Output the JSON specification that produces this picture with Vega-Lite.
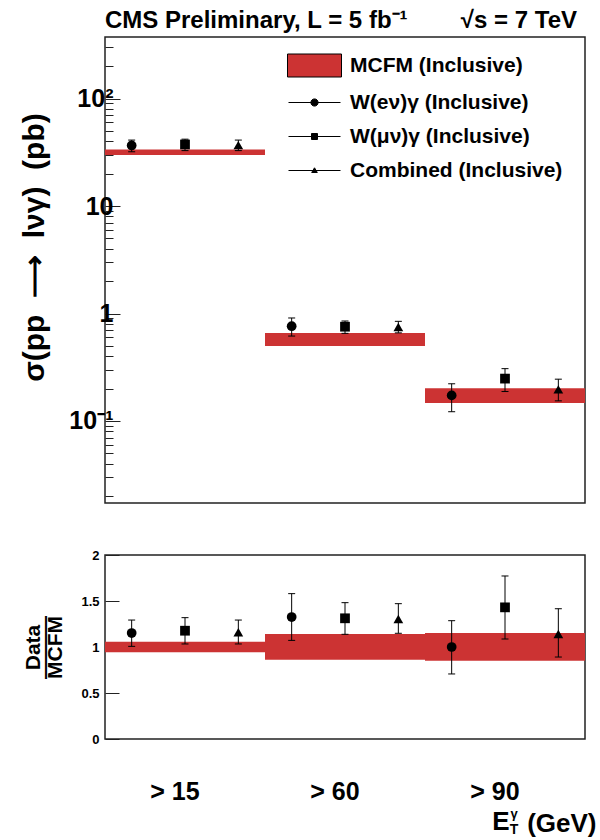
{
  "$schema": "https://vega.github.io/schema/vega-lite/v6.json",
  "background": "white",
  "padding": {"left": 18, "top": 8, "right": 5, "bottom": 5},
  "spacing": 44,
  "config": {
    "font": "Liberation Sans",
    "view": {"stroke": "#222222", "strokeWidth": 1.5},
    "axis": {
      "labelFont": "Liberation Sans", "labelFontWeight": "bold", "labelColor": "black",
      "titleFont": "Liberation Sans", "titleFontWeight": "bold", "titleColor": "black",
      "tickColor": "#222222", "tickWidth": 1, "domain": false, "grid": false
    }
  },
  "datasets": {
    "pts": [
      {"bin": ">15", "ch": "e", "xsec": 36.6, "lo": 32.0, "hi": 41.1, "ratio": 1.152, "rlo": 1.007, "rhi": 1.293},
      {"bin": ">15", "ch": "mu", "xsec": 37.4, "lo": 32.8, "hi": 41.9, "ratio": 1.177, "rlo": 1.033, "rhi": 1.319},
      {"bin": ">15", "ch": "comb", "xsec": 36.9, "lo": 32.8, "hi": 41.1, "ratio": 1.16, "rlo": 1.033, "rhi": 1.293},
      {"bin": ">60", "ch": "e", "xsec": 0.762, "lo": 0.617, "hi": 0.909, "ratio": 1.326, "rlo": 1.072, "rhi": 1.58},
      {"bin": ">60", "ch": "mu", "xsec": 0.754, "lo": 0.654, "hi": 0.852, "ratio": 1.312, "rlo": 1.138, "rhi": 1.482},
      {"bin": ">60", "ch": "comb", "xsec": 0.75, "lo": 0.661, "hi": 0.846, "ratio": 1.304, "rlo": 1.149, "rhi": 1.471},
      {"bin": ">90", "ch": "e", "xsec": 0.173, "lo": 0.122, "hi": 0.222, "ratio": 1.0, "rlo": 0.707, "rhi": 1.286},
      {"bin": ">90", "ch": "mu", "xsec": 0.248, "lo": 0.188, "hi": 0.307, "ratio": 1.431, "rlo": 1.087, "rhi": 1.772},
      {"bin": ">90", "ch": "comb", "xsec": 0.197, "lo": 0.154, "hi": 0.245, "ratio": 1.141, "rlo": 0.891, "rhi": 1.416}
    ],
    "mcfm": [
      {"bin": ">15", "xsec": 31.7, "lo": 29.9, "hi": 33.6, "rlo": 0.944, "rhi": 1.056},
      {"bin": ">60", "xsec": 0.575, "lo": 0.5, "hi": 0.66, "rlo": 0.862, "rhi": 1.141},
      {"bin": ">90", "xsec": 0.173, "lo": 0.147, "hi": 0.2018, "rlo": 0.851, "rhi": 1.152}
    ]
  },
  "vconcat": [
    {
      "width": 480,
      "height": 466,
      "title": {
        "text": "CMS Preliminary, L = 5 fb\u207b\u00b9\u00a0\u00a0\u00a0\u00a0\u00a0\u00a0\u00a0\u00a0\u221as = 7 TeV",
        "anchor": "start", "frame": "group", "fontSize": 24, "fontWeight": "bold",
        "font": "Liberation Sans", "baseline": "alphabetic", "offset": -15, "color": "black"
      },
      "layer": [
        {
          "data": {"name": "mcfm"},
          "mark": {"type": "bar", "color": "#cc3333"},
          "encoding": {
            "x": {"field": "bin", "type": "nominal", "scale": {"domain": [">15", ">60", ">90"], "paddingInner": 0, "paddingOuter": 0}, "axis": null},
            "y": {
              "field": "lo", "type": "quantitative",
              "scale": {"type": "log", "domain": [0.01726, 374], "nice": false},
              "axis": {
                "values": [0.02, 0.03, 0.04, 0.05, 0.06, 0.07, 0.08, 0.09, 0.1, 0.2, 0.3, 0.4, 0.5, 0.6, 0.7, 0.8, 0.9, 1, 2, 3, 4, 5, 6, 7, 8, 9, 10, 20, 30, 40, 50, 60, 70, 80, 90, 100, 200, 300],
                "labelExpr": "datum.value == 100 ? '10\u00b2' : datum.value == 10 ? '10' : datum.value == 1 ? '1' : datum.value == 0.1 ? '10\u207b\u00b9' : ''",
                "tickSize": {"condition": {"test": "datum.value == 0.1 || datum.value == 1 || datum.value == 10 || datum.value == 100", "value": -15}, "value": -8},
                "labelFontSize": 25, "labelPadding": 7,
                "title": "\u03c3(pp\u00a0\u00a0\u27f6\u00a0\u00a0l\u03bd\u03b3)\u00a0\u00a0(pb)", "titleFontSize": 30,
                "titleX": -56, "titleY": 210, "titleBaseline": "bottom", "titleAlign": "center", "titleAngle": -90
              }
            },
            "y2": {"field": "hi"}
          }
        },
        {
          "data": {"name": "pts"},
          "mark": {"type": "rule", "color": "black", "strokeWidth": 1},
          "encoding": {
            "x": {"field": "bin", "type": "nominal"},
            "xOffset": {"field": "ch", "type": "nominal", "scale": {"domain": ["e", "mu", "comb"], "paddingInner": 0, "paddingOuter": 0}},
            "y": {"field": "lo", "type": "quantitative"},
            "y2": {"field": "hi"}
          }
        },
        {
          "data": {"name": "pts"},
          "mark": {"type": "tick", "color": "black", "size": 7, "thickness": 1, "opacity": 1},
          "encoding": {
            "x": {"field": "bin", "type": "nominal"},
            "xOffset": {"field": "ch", "type": "nominal"},
            "y": {"field": "lo", "type": "quantitative"}
          }
        },
        {
          "data": {"name": "pts"},
          "mark": {"type": "tick", "color": "black", "size": 7, "thickness": 1, "opacity": 1},
          "encoding": {
            "x": {"field": "bin", "type": "nominal"},
            "xOffset": {"field": "ch", "type": "nominal"},
            "y": {"field": "hi", "type": "quantitative"}
          }
        },
        {
          "data": {"name": "pts"},
          "mark": {"type": "point", "filled": true, "size": 95, "color": "black", "opacity": 1},
          "encoding": {
            "x": {"field": "bin", "type": "nominal"},
            "xOffset": {"field": "ch", "type": "nominal"},
            "y": {"field": "xsec", "type": "quantitative"},
            "shape": {"field": "ch", "type": "nominal", "scale": {"domain": ["e", "mu", "comb"], "range": ["circle", "square", "triangle-up"]}, "legend": null}
          }
        },
        {
          "data": {"name": "pts"},
          "transform": [{"filter": "datum.ch == 'none'"}],
          "mark": {"type": "point", "filled": true, "opacity": 1},
          "encoding": {
            "x": {"field": "bin", "type": "nominal"},
            "y": {"field": "xsec", "type": "quantitative"},
            "shape": {
              "field": "series", "type": "nominal",
              "scale": {
                "domain": ["MCFM (Inclusive)", "W(e\u03bd)\u03b3 (Inclusive)", "W(\u03bc\u03bd)\u03b3 (Inclusive)", "Combined (Inclusive)"],
                "range": [
                  "M-2.7,-1.15H2.7V1.15H-2.7Z",
                  "M-2.6,0H2.6M0.36,0A0.36,0.36,0,1,1,-0.36,0A0.36,0.36,0,1,1,0.36,0Z",
                  "M-2.6,0H2.6M-0.3,-0.3H0.3V0.3H-0.3Z",
                  "M-2.6,0H2.6M0,-0.27L0.28,0.2H-0.28Z"
                ]
              },
              "legend": {
                "title": null, "orient": "none", "legendX": 199, "legendY": 18,
                "symbolSize": 400, "symbolOpacity": 1, "symbolStrokeColor": "black", "symbolStrokeWidth": 1,
                "labelFont": "Liberation Sans", "labelFontSize": 21, "labelFontWeight": "bold", "labelColor": "black",
                "labelOffset": 25, "rowPadding": 12, "labelLimit": 400, "padding": 0,
                "encode": {"symbols": {"update": {"stroke": {"value": "black"}, "strokeWidth": {"value": 1}, "opacity": {"value": 1}}}}
              }
            },
            "color": {
              "field": "series", "type": "nominal",
              "scale": {
                "domain": ["MCFM (Inclusive)", "W(e\u03bd)\u03b3 (Inclusive)", "W(\u03bc\u03bd)\u03b3 (Inclusive)", "Combined (Inclusive)"],
                "range": ["#cc3333", "black", "black", "black"]
              },
              "legend": {
                "title": null, "orient": "none", "legendX": 199, "legendY": 18,
                "symbolSize": 400, "symbolOpacity": 1, "symbolStrokeColor": "black", "symbolStrokeWidth": 1,
                "labelFont": "Liberation Sans", "labelFontSize": 21, "labelFontWeight": "bold", "labelColor": "black",
                "labelOffset": 25, "rowPadding": 12, "labelLimit": 400, "padding": 0,
                "encode": {"symbols": {"update": {"stroke": {"value": "black"}, "strokeWidth": {"value": 1}, "opacity": {"value": 1}}}}
              }
            }
          }
        }
      ],
      "resolve": {"scale": {"shape": "independent", "color": "independent"}}
    },
    {
      "width": 480,
      "height": 184,
      "layer": [
        {
          "data": {"name": "mcfm"},
          "mark": {"type": "bar", "color": "#cc3333"},
          "encoding": {
            "x": {
              "field": "bin", "type": "nominal",
              "scale": {"domain": [">15", ">60", ">90"], "paddingInner": 0, "paddingOuter": 0},
              "axis": {
                "labelExpr": "replace(datum.value, '>', '> ')",
                "labelAngle": 0, "labelFontSize": 25, "labelPadding": 40, "labelOffset": -10, "ticks": false,
                "title": "(GeV)", "titleFontSize": 26, "titlePadding": 6,
                "titleX": 491, "titleAlign": "right"
              }
            },
            "y": {
              "field": "rlo", "type": "quantitative",
              "scale": {"domain": [0, 2], "nice": false},
              "axis": {
                "values": [0, 0.5, 1, 1.5, 2],
                "labelExpr": "'' + datum.value",
                "tickSize": -14, "labelFontSize": 13, "labelPadding": 20,
                "title": ["Data", "\u2014\u2014\u2014", "MCFM"], "titleFontSize": 21, "titleLineHeight": 11, "titlePadding": 15
              }
            },
            "y2": {"field": "rhi"}
          }
        },
        {
          "data": {"name": "pts"},
          "mark": {"type": "rule", "color": "black", "strokeWidth": 1},
          "encoding": {
            "x": {"field": "bin", "type": "nominal"},
            "xOffset": {"field": "ch", "type": "nominal", "scale": {"domain": ["e", "mu", "comb"], "paddingInner": 0, "paddingOuter": 0}},
            "y": {"field": "rlo", "type": "quantitative"},
            "y2": {"field": "rhi"}
          }
        },
        {
          "data": {"name": "pts"},
          "mark": {"type": "tick", "color": "black", "size": 7, "thickness": 1, "opacity": 1},
          "encoding": {
            "x": {"field": "bin", "type": "nominal"},
            "xOffset": {"field": "ch", "type": "nominal"},
            "y": {"field": "rlo", "type": "quantitative"}
          }
        },
        {
          "data": {"name": "pts"},
          "mark": {"type": "tick", "color": "black", "size": 7, "thickness": 1, "opacity": 1},
          "encoding": {
            "x": {"field": "bin", "type": "nominal"},
            "xOffset": {"field": "ch", "type": "nominal"},
            "y": {"field": "rhi", "type": "quantitative"}
          }
        },
        {
          "data": {"name": "pts"},
          "mark": {"type": "point", "filled": true, "size": 95, "color": "black", "opacity": 1},
          "encoding": {
            "x": {"field": "bin", "type": "nominal"},
            "xOffset": {"field": "ch", "type": "nominal"},
            "y": {"field": "ratio", "type": "quantitative"},
            "shape": {"field": "ch", "type": "nominal", "scale": {"domain": ["e", "mu", "comb"], "range": ["circle", "square", "triangle-up"]}, "legend": null}
          }
        },
        {
          "data": {"values": [{}]},
          "mark": {"type": "text", "text": "E", "fontSize": 26, "fontWeight": "bold", "font": "Liberation Sans", "color": "black", "baseline": "alphabetic", "dx": -4, "dy": 91},
          "encoding": {"x": {"datum": ">90"}, "y": {"datum": 0}}
        },
        {
          "data": {"values": [{}]},
          "mark": {"type": "text", "text": "\u03b3", "fontSize": 13, "fontWeight": "bold", "font": "Liberation Sans", "color": "black", "dx": 9, "dy": 75},
          "encoding": {"x": {"datum": ">90"}, "y": {"datum": 0}}
        },
        {
          "data": {"values": [{}]},
          "mark": {"type": "text", "text": "T", "fontSize": 14, "fontWeight": "bold", "font": "Liberation Sans", "color": "black", "dx": 9, "dy": 91},
          "encoding": {"x": {"datum": ">90"}, "y": {"datum": 0}}
        }
      ]
    }
  ]
}
